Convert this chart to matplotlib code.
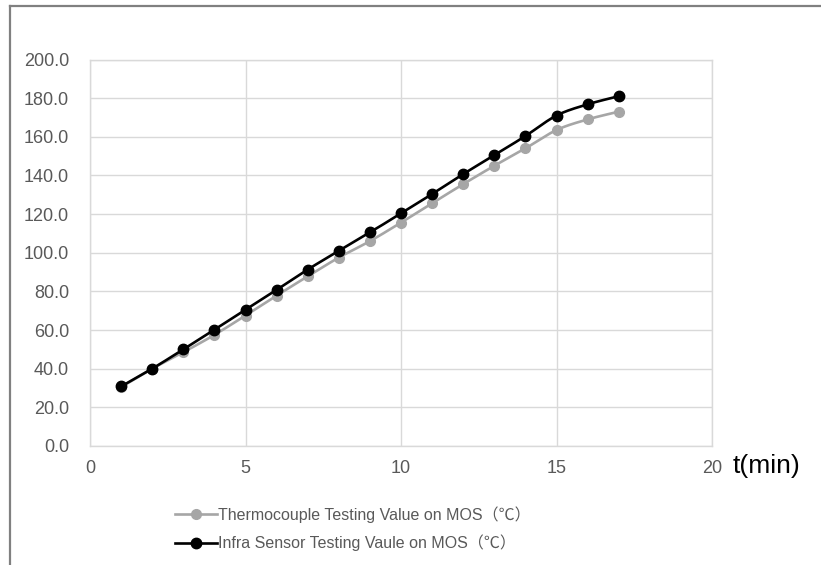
import numpy as np
import matplotlib
matplotlib.use("Agg")
import matplotlib.pyplot as plt
from matplotlib.lines import Line2D

plt.rcParams['font.family'] = ['Liberation Sans', 'Noto Sans CJK SC', 'DejaVu Sans']

# time in minutes
t = [1, 2, 3, 4, 5, 6, 7, 8, 9, 10, 11, 12, 13, 14, 15, 16, 17]
thermocouple = [30.5, 40.0, 48.5, 57.5, 67.5, 77.8, 87.8, 97.5, 106.0, 115.6,
                125.6, 135.5, 145.0, 154.0, 163.5, 169.0, 173.0]
infra = [30.8, 40.0, 50.0, 60.2, 70.5, 80.8, 91.3, 101.0, 110.5, 120.4,
         130.4, 140.7, 150.5, 160.4, 171.0, 176.8, 181.0]

labels = ['Thermocouple Testing Value on MOS（℃）',
          'Infra Sensor Testing Vaule on MOS（℃）']
xticks = [0, 5, 10, 15, 20]
yticks = np.arange(0, 201, 20)


def smooth(x, y, n=20):
    # Catmull-Rom style curve through the points, like Excel's smoothed line
    x = np.asarray(x, float)
    y = np.asarray(y, float)
    px = np.concatenate([[x[0]], x, [x[-1]]])
    py = np.concatenate([[y[0]], y, [y[-1]]])
    xs, ys = [], []
    s = np.linspace(0, 1, n)
    for i in range(1, len(px) - 2):
        p0, p1, p2, p3 = (np.array([px[j], py[j]]) for j in range(i - 1, i + 3))
        c1 = p1 + (p2 - p0) / 6
        c2 = p2 - (p3 - p1) / 6
        b = ((1 - s) ** 3)[:, None] * p1 + (3 * (1 - s) ** 2 * s)[:, None] * c1 \
            + (3 * (1 - s) * s ** 2)[:, None] * c2 + (s ** 3)[:, None] * p2
        xs.append(b[:, 0])
        ys.append(b[:, 1])
    return np.concatenate(xs), np.concatenate(ys)


W, H = 821, 565
fig = plt.figure(figsize=(W / 100, H / 100), dpi=100)
ax = fig.add_axes([90 / W, 1 - 446 / H, (712 - 90) / W, (446 - 59.5) / H])

grid_c = '#d9d9d9'
text_c = '#595959'
gray = '#a6a6a6'

for y, c, ms, z in [(thermocouple, gray, 7, 3), (infra, 'black', 7.5, 4)]:
    sx, sy = smooth(t, y)
    ax.plot(sx, sy, color=c, lw=1.9, zorder=z)
    ax.plot(t, y, ls='none', marker='o', ms=ms, color=c, zorder=z)

ax.set_xlim(0, 20)
ax.set_ylim(0, 200)
ax.set_xticks(xticks)
ax.set_yticks(yticks)
ax.set_yticklabels([f'{v:.1f}' for v in yticks])
ax.grid(True, color=grid_c, lw=1)
ax.set_axisbelow(True)
for s in ax.spines.values():
    s.set_color(grid_c)
    s.set_linewidth(1)
ax.tick_params(length=0, labelsize=13, colors=text_c)
ax.tick_params(axis='x', pad=10)
ax.tick_params(axis='y', pad=15)

fig.text(733 / W, 1 - 466 / H, 't(min)', fontsize=19, color='black',
         ha='left', va='center')

handles = [Line2D([], [], color=gray, lw=1.9, marker='o', ms=7),
           Line2D([], [], color='black', lw=1.9, marker='o', ms=7.5)]
fig.legend(handles, labels, loc='center left',
           bbox_to_anchor=(175 / W, 1 - 528.5 / H),
           frameon=False, fontsize=11.5, handlelength=2.6, handletextpad=0.1,
           labelspacing=0.75, borderpad=0, borderaxespad=0, labelcolor=text_c)

# outer frame (top and left edges visible)
fig.add_artist(Line2D([10 / W, 10 / W], [0, 1 - 6 / H], color='#808080',
                      lw=1.6, transform=fig.transFigure))
fig.add_artist(Line2D([10 / W, 1], [1 - 6 / H, 1 - 6 / H], color='#808080',
                      lw=1.6, transform=fig.transFigure))

fig.savefig('out.png', dpi=100)
